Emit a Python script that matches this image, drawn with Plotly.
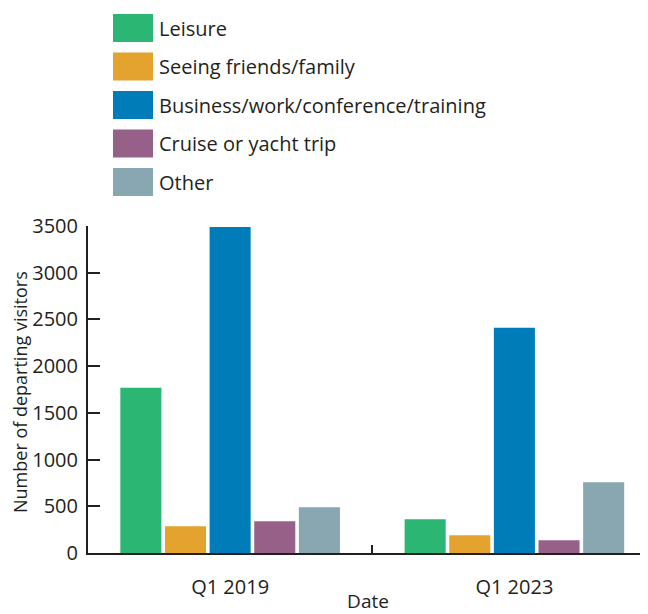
import plotly.graph_objects as go

categories = ["Q1 2019", "Q1 2023"]
series_names = ["Leisure", "Seeing friends/family", "Business/work/conference/training",
                "Cruise or yacht trip", "Other"]
leisure = [1770, 360]
friends_family = [285, 190]
business = [3490, 2410]
cruise = [340, 136]
other = [490, 757]
series_values = [leisure, friends_family, business, cruise, other]
colors = ["#2BB673", "#E4A22E", "#007DB8", "#976088", "#88A7B0"]
y_ticks = [0, 500, 1000, 1500, 2000, 2500, 3000, 3500]

FONT = "Open Sans"
FS = 20
TXT = "#231F20"

# page has an 8px body margin; figure drawn at (8, 8)
OFF = 8
L, T = 88, 226          # plot-area left / top in page pixels
PW, PH = 560, 327        # plot-area size

fig = go.Figure()
for name, vals, col in zip(series_names, series_values, colors):
    fig.add_trace(go.Bar(x=categories, y=vals, name=name, marker=dict(color=col, line=dict(width=0)),
                         showlegend=False))

for i, (name, col) in enumerate(zip(series_names, colors)):
    yc = 28 + i * 38.5
    fig.add_shape(type="rect", xref="paper", yref="paper",
                  x0=(113 - L) / PW, x1=(153 - L) / PW,
                  y0=(T + PH - (yc + 14)) / PH, y1=(T + PH - (yc - 14)) / PH,
                  fillcolor=col, line=dict(width=0))
    fig.add_annotation(xref="paper", yref="paper", x=(157 - L) / PW, y=(T + PH - yc) / PH,
                       text=name, showarrow=False, xanchor="left", yanchor="middle",
                       font=dict(family=FONT, size=FS, color=TXT))

# y-axis title
fig.add_annotation(xref="paper", yref="paper", x=(20 - L) / PW, y=(T + PH - 392) / PH,
                   text="Number of departing visitors", textangle=-90, showarrow=False,
                   xanchor="center", yanchor="middle", borderpad=0,
                   font=dict(family=FONT, size=18, color=TXT))

fig.update_layout(
    width=648 - OFF, height=614 - OFF,
    margin=dict(l=L - OFF, r=0, t=T - OFF, b=614 - T - PH, autoexpand=False),
    barmode="group", bargap=0.215, bargroupgap=0.08,
    plot_bgcolor="white", paper_bgcolor="white",
    font=dict(family=FONT, size=FS, color=TXT),
    xaxis=dict(range=[-0.5, 1.47], showline=True, linecolor=TXT, linewidth=2,
               ticks="inside", tickson="boundaries", ticklen=8, tickcolor=TXT, tickwidth=2,
               ticklabelstandoff=15, showgrid=False, automargin=False,
               title=dict(text="Date", standoff=4, font=dict(family=FONT, size=19, color=TXT))),
    yaxis=dict(range=[0, 3500], tickvals=y_ticks, showline=True, linecolor=TXT, linewidth=2,
               ticks="inside", ticklen=12, tickcolor=TXT, tickwidth=2, showgrid=False,
               zeroline=False, ticklabelstandoff=4, automargin=False),
)

fig.write_html("out.html")
